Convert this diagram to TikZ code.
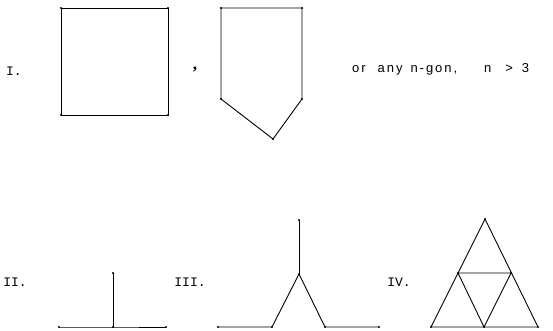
\documentclass[tikz,border=0pt]{standalone}
\usepackage{fontspec}
\newfontfamily\plotfont[LetterSpace=15]{Liberation Sans}
\newfontfamily\typefont{Liberation Mono}
\newfontfamily\commafont{Liberation Serif}
\begin{document}
\begin{tikzpicture}[x=1pt,y=-1pt,
  edge/.style={line width=0.9pt,black},
  numlabel/.style={font=\typefont\fontsize{13}{14}\selectfont,inner sep=0pt},
  plottext/.style={font=\plotfont\fontsize{13}{14}\selectfont,inner sep=0pt}]
\useasboundingbox[fill=white] (0,0) rectangle (553,331);
% labels
\node[numlabel] (lI) at (14,71) {I.};
\node[numlabel] (lII) at (15,282) {II.};
\node[numlabel] (lIII) at (190,282) {III.};
\node[numlabel] (lIV) at (399,282) {IV.};
\node[inner sep=0pt,font=\commafont\bfseries\fontsize{17}{18}\selectfont] (comma) at (195,70) {,};
\node[plottext,anchor=base west] (txt) at (352,73) {or\hspace{12pt}any\hspace{8pt}n-gon,\hspace{27pt}n\hspace{14pt}>\hspace{9pt}3};
% square
\coordinate (s1) at (61,8);
\coordinate (s2) at (168,8);
\coordinate (s3) at (168,115);
\coordinate (s4) at (61,115);
\draw[edge] (s1) -- (s2) -- (s3) -- (s4) -- cycle;
% pentagon
\coordinate (p1) at (221,8);
\coordinate (p2) at (302,8);
\coordinate (p3) at (302,99);
\coordinate (p4) at (273,139);
\coordinate (p5) at (221,99);
\draw[edge] (p1) -- (p2) -- (p3) -- (p4) -- (p5) -- cycle;
% II
\coordinate (a1) at (113,273);
\coordinate (a2) at (113,327);
\coordinate (a3) at (59,327);
\coordinate (a4) at (166,327);
\draw[edge] (a1) -- (a2);
\draw[edge] (a3) -- (a2) -- (a4);
% III
\coordinate (b1) at (299,220);
\coordinate (b2) at (299,274);
\coordinate (b3) at (272,327);
\coordinate (b4) at (325,327);
\coordinate (b5) at (218,327);
\coordinate (b6) at (379,327);
\draw[edge] (b1) -- (b2);
\draw[edge] (b5) -- (b3) -- (b2) -- (b4) -- (b6);
% IV
\coordinate (c1) at (485,219);
\coordinate (c2) at (431,327);
\coordinate (c3) at (538,327);
\coordinate (c4) at (458,273);
\coordinate (c5) at (511,273);
\coordinate (c6) at (484,327);
\draw[edge] (c1) -- (c2) -- (c3) -- cycle;
\draw[edge] (c4) -- (c5) -- (c6) -- cycle;
% vertex dots
\foreach \p in {s1,s2,s3,s4,p1,p2,p3,p4,p5,a1,a2,a3,a4,b1,b2,b3,b4,b5,b6,c1,c2,c3,c4,c5,c6}
  \fill (\p) circle (1.2pt);
\end{tikzpicture}
\end{document}
